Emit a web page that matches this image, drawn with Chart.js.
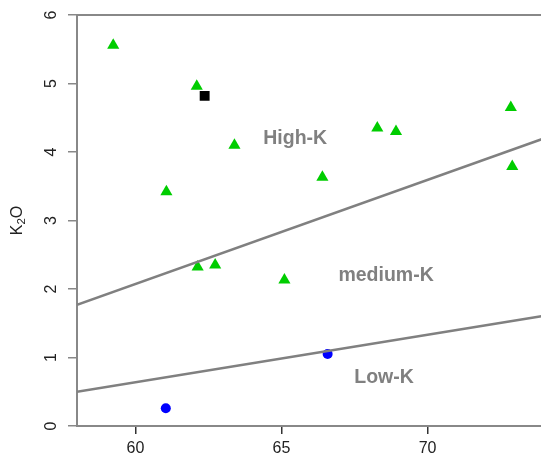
<!DOCTYPE html>
<html>
<head>
<meta charset="utf-8">
<script src="https://cdn.jsdelivr.net/npm/chart.js@4.4.0/dist/chart.umd.min.js"></script>
<style>
html, body { margin: 0; padding: 0; overflow: hidden; background: #fff; }
canvas { display: block; }
</style>
</head>
<body>
<canvas id="myChart" width="560" height="463"></canvas>
<script>
var tri_x = [59.24, 62.1, 63.39, 68.28, 68.92, 72.85, 72.9, 61.06, 66.4, 62.13, 62.73, 65.1]
var tri_y = [5.56, 4.96, 4.10, 4.35, 4.30, 4.65, 3.79, 3.42, 3.63, 2.32, 2.35, 2.13]
var circle_x = [61.04, 66.58]
var circle_y = [0.26, 1.05]
var square_x = [62.37]
var square_y = [4.82]

var upper_line_x = [58, 74]
var upper_line_y = [1.77, 4.20]
var lower_line_x = [58, 74]
var lower_line_y = [0.50, 1.61]

var region_labels = ['High-K', 'medium-K', 'Low-K']
var region_label_x = [65.47, 68.58, 68.51]
var region_label_y = [4.2, 2.19, 0.70]

var x_ticks = [60, 65, 70]
var y_ticks = [0, 1, 2, 3, 4, 5, 6]

var fontFamily = '"Liberation Sans", Arial, sans-serif'

function toPoints(xs, ys){
    let pts = []
    for (var i = 0; i < xs.length; i++) {
        pts.push({x: xs[i], y: ys[i]})
    }
    return pts
}

const boxPlugin = {
    id: 'boxPlugin',
    afterDraw(chart) {
        let ctx = chart.ctx
        let a = chart.chartArea
        ctx.save()
        ctx.strokeStyle = '#888'
        ctx.lineWidth = 2
        ctx.beginPath()
        ctx.moveTo(a.left, a.top)
        ctx.lineTo(a.right, a.top)
        ctx.lineTo(a.right, a.bottom)
        ctx.stroke()
        ctx.restore()
    }
}

const labelPlugin = {
    id: 'labelPlugin',
    afterDatasetsDraw(chart) {
        let ctx = chart.ctx
        let xs = chart.scales.x
        let ys = chart.scales.y
        ctx.save()
        ctx.font = 'bold 19.5px ' + fontFamily
        ctx.fillStyle = '#808080'
        ctx.textAlign = 'center'
        ctx.textBaseline = 'middle'
        for (var i = 0; i < region_labels.length; i++) {
            ctx.fillText(region_labels[i], xs.getPixelForValue(region_label_x[i]), ys.getPixelForValue(region_label_y[i]))
        }
        ctx.restore()
    }
}

// y axis title K2O with a real subscript
const yTitlePlugin = {
    id: 'yTitlePlugin',
    afterDraw(chart) {
        let ctx = chart.ctx
        let a = chart.chartArea
        let big = '16px ' + fontFamily
        let small = '11.5px ' + fontFamily
        ctx.save()
        ctx.translate(17.5, (a.top + a.bottom) / 2)
        ctx.rotate(-Math.PI / 2)
        ctx.fillStyle = '#222'
        ctx.textBaseline = 'middle'
        ctx.textAlign = 'left'
        ctx.font = big
        let wK = ctx.measureText('K').width
        let wO = ctx.measureText('O').width
        ctx.font = small
        let w2 = ctx.measureText('2').width
        let start = -(wK + w2 + wO) / 2
        ctx.font = big
        ctx.fillText('K', start, 0)
        ctx.font = small
        ctx.fillText('2', start + wK, 4)
        ctx.font = big
        ctx.fillText('O', start + wK + w2, 0)
        ctx.restore()
    }
}

var tickFont = {family: fontFamily, size: 16}

var ctx = document.getElementById('myChart').getContext('2d')
var myChart = new Chart(ctx, {
    type: 'scatter',
    data: {
        datasets: [
            {
                data: toPoints(upper_line_x, upper_line_y),
                showLine: true,
                borderColor: '#808080',
                borderWidth: 2.5,
                pointRadius: 0,
                fill: false
            },
            {
                data: toPoints(lower_line_x, lower_line_y),
                showLine: true,
                borderColor: '#808080',
                borderWidth: 2.5,
                pointRadius: 0,
                fill: false
            },
            {
                data: toPoints(square_x, square_y),
                pointStyle: 'rect',
                pointRadius: 7,
                backgroundColor: '#000',
                borderColor: '#000',
                borderWidth: 0
            },
            {
                data: toPoints(circle_x, circle_y),
                pointStyle: 'circle',
                pointRadius: 5,
                backgroundColor: '#0000ff',
                borderColor: '#0000ff',
                borderWidth: 0
            },
            {
                data: toPoints(tri_x, tri_y),
                pointStyle: 'triangle',
                pointRadius: 7,
                backgroundColor: '#00cd00',
                borderColor: '#00cd00',
                borderWidth: 0
            }
        ]
    },
    options: {
        responsive: false,
        animation: false,
        devicePixelRatio: 1,
        layout: {padding: {top: 15, right: 15.6, left: 0, bottom: 0}},
        plugins: {legend: {display: false}, tooltip: {enabled: false}},
        scales: {
            x: {
                type: 'linear',
                min: 58,
                max: 74,
                afterBuildTicks: function (scale) {
                    scale.ticks = x_ticks.map(v => ({value: v}))
                },
                afterFit: function (scale) {
                    scale.height = 37
                    scale.paddingLeft = 0
                    scale.paddingRight = 0
                },
                ticks: {font: tickFont, color: '#222', padding: 5, maxRotation: 0},
                grid: {drawOnChartArea: false, tickLength: 8, color: '#333', lineWidth: 1.5},
                border: {color: '#888', width: 2}
            },
            y: {
                type: 'linear',
                min: 0,
                max: 6,
                afterBuildTicks: function (scale) {
                    scale.ticks = y_ticks.map(v => ({value: v}))
                },
                afterFit: function (scale) {
                    scale.width = 77
                    scale.paddingTop = 0
                    scale.paddingBottom = 0
                },
                ticks: {font: tickFont, color: '#222', padding: 12, minRotation: 90, maxRotation: 90, crossAlign: 'center'},
                grid: {drawOnChartArea: false, tickLength: 9, color: '#888', lineWidth: 1.5},
                border: {color: '#888', width: 2}
            }
        }
    },
    plugins: [boxPlugin, labelPlugin, yTitlePlugin]
})
</script>
</body>
</html>
